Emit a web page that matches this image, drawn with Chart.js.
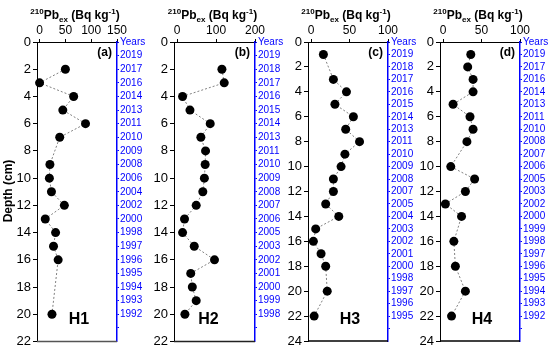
<!DOCTYPE html>
<html>
<head>
<meta charset="utf-8">
<script src="https://cdn.jsdelivr.net/npm/chart.js@4/dist/chart.umd.min.js"></script>
<style>
  body { margin: 0; background: #fff; }
  #wrap { position: relative; width: 550px; height: 350px; }
  canvas { position: absolute; left: 0; top: 0; }
</style>
</head>
<body>
<div id="wrap">
  <canvas id="c1" width="550" height="350"></canvas>
  <canvas id="c2" width="550" height="350"></canvas>
  <canvas id="c3" width="550" height="350"></canvas>
  <canvas id="c4" width="550" height="350"></canvas>
</div>
<script>
// core H1
const depthH1 = [2, 3, 4, 5, 6, 7, 9, 10, 11, 12, 13, 14, 15, 16, 20];
const pbH1 = [50, 0, 66, 45, 89, 39, 20, 19, 23, 48, 11, 31, 27, 36, 24];
const yearsH1 = ['Years', '2019', '2017', '2016', '2014', '2013', '2011', '2010', '2009', '2008', '2006',
  '2004', '2002', '2000', '1998', '1997', '1996', '1995', '1994', '1993', '1992', ''];

// core H2
const depthH2 = [2, 3, 4, 5, 6, 7, 8, 9, 10, 11, 12, 13, 14, 15, 16, 17, 18, 19, 20];
const pbH2 = [115, 121, 14, 33, 85, 61, 73, 72, 70, 66, 49, 19, 14, 44, 96, 35, 39, 49, 20];
const yearsH2 = ['Years', '2019', '2018', '2017', '2016', '2015', '2014', '2013', '2011', '2010', '2009',
  '2008', '2007', '2006', '2005', '2003', '2002', '2001', '2000', '1999', '1998', ''];

// core H3
const depthH3 = [1, 3, 4, 5, 6, 7, 8, 9, 10, 11, 12, 13, 14, 15, 16, 17, 18, 20, 22];
const pbH3 = [16, 29, 46, 31, 55, 45, 63, 44, 39, 29, 29, 19, 36, 6, 3, 13, 19, 21, 4];
const yearsH3 = ['Years', '2019', '2018', '2017', '2016', '2015', '2014', '2013', '2011', '2010', '2009',
  '2008', '2007', '2005', '2004', '2003', '2002', '2001', '2000', '1998', '1997', '1996', '1995', ''];

// core H4
const depthH4 = [1, 2, 3, 4, 5, 6, 7, 8, 10, 11, 12, 13, 14, 16, 18, 20, 22];
const pbH4 = [36, 32, 39, 39, 13, 35, 39, 31, 10, 41, 29, 3, 24, 14, 16, 29, 11];
const yearsH4 = ['Years', '2019', '2017', '2016', '2014', '2013', '2011', '2010', '2008', '2007', '2006',
  '2005', '2003', '2002', '2000', '1999', '1998', '1997', '1996', '1995', '1994', '1993', '1992', ''];

// tick labels
const pbTicks150 = [0, 50, 100, 150];
const pbTicks200 = [0, 100, 200];
const pbTicks100 = [0, 50, 100];
const depthTicks22 = [0, 2, 4, 6, 8, 10, 12, 14, 16, 18, 20, 22];
const depthTicks24 = [0, 2, 4, 6, 8, 10, 12, 14, 16, 18, 20, 22, 24];

const FONT = '"Liberation Sans", Arial, sans-serif';
const BLUE = '#0000ff';

function drawTitle(ctx, cx, base) {
  let parts = [['210', 'sup'], ['Pb', ''], ['ex', 'sub'], [' (Bq kg', ''], ['-1', 'sup'], [')', '']];
  let big = 'bold 12px ' + FONT;
  let small = 'bold 8px ' + FONT;
  let w = 0;
  parts.forEach(p => { ctx.font = p[1] ? small : big; w += ctx.measureText(p[0]).width; });
  let x = cx - w / 2;
  ctx.textAlign = 'left';
  ctx.textBaseline = 'alphabetic';
  ctx.fillStyle = '#000';
  parts.forEach(p => {
    ctx.font = p[1] ? small : big;
    let dy = p[1] === 'sup' ? -5 : (p[1] === 'sub' ? 3 : 0);
    ctx.fillText(p[0], x, base + dy);
    x += ctx.measureText(p[0]).width;
  });
}

function makePanel(id, p) {
  let box = p.box; // plot area: left, right, top, bottom
  let decoPlugin = {
    id: 'deco',
    afterDraw(chart) {
      let ctx = chart.ctx;
      let a = chart.chartArea;
      ctx.save();
      // bottom border
      ctx.strokeStyle = p.bottomColor;
      ctx.lineWidth = 1.5;
      ctx.beginPath();
      ctx.moveTo(a.left, a.bottom);
      ctx.lineTo(a.right, a.bottom);
      ctx.stroke();
      drawTitle(ctx, (a.left + a.right) / 2 - 2, 19);
      ctx.fillStyle = '#000';
      ctx.textBaseline = 'middle';
      ctx.font = 'bold 12px ' + FONT;
      ctx.textAlign = 'right';
      ctx.fillText(p.letter, a.right - 5, 53);
      ctx.font = 'bold 16px ' + FONT;
      ctx.textAlign = 'center';
      ctx.fillText(p.name, (a.left + a.right) / 2 + p.nameDx, 320);
      if (p.depthLabel) {
        ctx.translate(9, 191);
        ctx.rotate(-Math.PI / 2);
        ctx.font = 'bold 12px ' + FONT;
        ctx.fillText('Depth (cm)', 0, 0);
      }
      ctx.restore();
    }
  };

  let pts = p.depth.map((d, i) => ({ x: p.pb[i], y: d }));

  return new Chart(document.getElementById(id), {
    type: 'scatter',
    data: {
      datasets: [{
        data: pts,
        showLine: true,
        borderColor: '#808080',
        borderWidth: 1,
        borderDash: [2, 2],
        pointRadius: 4.5,
        pointBackgroundColor: '#000',
        pointBorderColor: '#000',
        pointBorderWidth: 0,
        clip: false
      }]
    },
    options: {
      responsive: false,
      animation: false,
      layout: {
        autoPadding: false,
        padding: { left: box.left - 30, right: 550 - box.right - 30, top: box.top - 20, bottom: 350 - box.bottom }
      },
      plugins: { legend: { display: false }, tooltip: { enabled: false } },
      scales: {
        x: {
          type: 'linear',
          position: 'top',
          min: p.xMin,
          max: p.xMax,
          afterBuildTicks: s => { s.ticks = p.xTicks.map(v => ({ value: v })); },
          afterFit: s => { s.height = 20; },
          ticks: { color: '#000', font: { family: FONT, size: 12 }, padding: 1, maxRotation: 0 },
          grid: { drawOnChartArea: false, color: '#000', tickLength: 3 },
          border: { color: '#000', width: 1 }
        },
        y: {
          type: 'linear',
          position: 'left',
          reverse: true,
          min: 0,
          max: p.yMax,
          afterBuildTicks: s => { s.ticks = p.yTicks.map(v => ({ value: v })); },
          afterFit: s => { s.width = 30; },
          ticks: { color: '#000', font: { family: FONT, size: 13, lineHeight: 1 }, padding: 2 },
          grid: { drawOnChartArea: false, color: '#000', tickLength: 4 },
          border: { color: '#000', width: 1 }
        },
        yr: {
          type: 'linear',
          position: 'right',
          reverse: true,
          min: 0,
          max: p.yMax,
          afterBuildTicks: s => { s.ticks = p.years.map((t, i) => ({ value: i })); },
          afterFit: s => { s.width = 30; },
          ticks: {
            color: BLUE,
            font: { family: FONT, size: 10, lineHeight: 1 },
            padding: 1,
            callback: v => p.years[v]
          },
          grid: { drawOnChartArea: false, color: BLUE, tickLength: 2 },
          border: { color: BLUE, width: 1.5 }
        }
      }
    },
    plugins: [decoPlugin]
  });
}

makePanel('c1', {
  depth: depthH1, pb: pbH1, years: yearsH1, xMin: -5, xMax: 150, xTicks: pbTicks150,
  yMax: 22, yTicks: depthTicks22, box: { left: 37, right: 117, top: 42, bottom: 343 },
  letter: '(a)', name: 'H1', nameDx: 2, bottomColor: '#555', depthLabel: true
});
makePanel('c2', {
  depth: depthH2, pb: pbH2, years: yearsH2, xMin: -8, xMax: 200, xTicks: pbTicks200,
  yMax: 22, yTicks: depthTicks22, box: { left: 174, right: 255, top: 42, bottom: 343 },
  letter: '(b)', name: 'H2', nameDx: -6, bottomColor: '#222'
});
makePanel('c3', {
  depth: depthH3, pb: pbH3, years: yearsH3, xMin: -4, xMax: 100, xTicks: pbTicks100,
  yMax: 24, yTicks: depthTicks24, box: { left: 308, right: 388, top: 42, bottom: 341 },
  letter: '(c)', name: 'H3', nameDx: 2, bottomColor: '#000'
});
makePanel('c4', {
  depth: depthH4, pb: pbH4, years: yearsH4, xMin: -4, xMax: 100, xTicks: pbTicks100,
  yMax: 24, yTicks: depthTicks24, box: { left: 440, right: 520, top: 42, bottom: 341 },
  letter: '(d)', name: 'H4', nameDx: 2, bottomColor: '#000'
});
</script>
</body>
</html>
